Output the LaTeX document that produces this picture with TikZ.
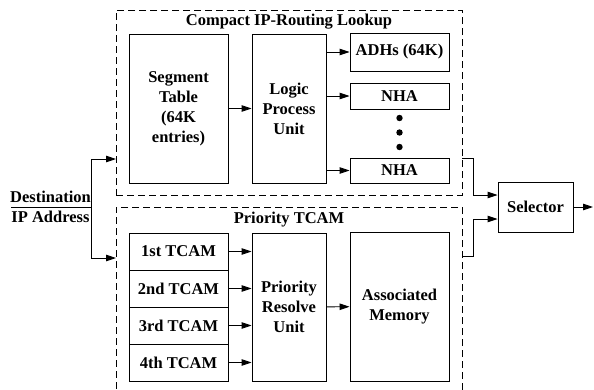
\documentclass[tikz,border=0pt]{standalone}
\usepackage{fontspec}
\setmainfont{Liberation Serif}
\usetikzlibrary{arrows.meta}

\begin{document}
\begin{tikzpicture}[x=1pt, y=-1pt,
    every node/.style={font=\fontsize{16.5}{20}\selectfont\bfseries},
    blk/.style={draw, line width=0.9pt, align=center, inner sep=0pt},
    group/.style={draw, line width=0.9pt, dash pattern=on 7pt off 4pt, inner sep=0pt},
    arr/.style={line width=0.9pt, -{Triangle[length=10pt,width=6.5pt]}},
    wire/.style={line width=0.9pt}]
        \useasboundingbox (0,0) rectangle (594,389);

        % Draw dashed groups
        \node[group, minimum width=346, minimum height=185] (cipr) at (289, 102.5) {};
        \node (ciprtitle) at (289, 22) {Compact IP-Routing Lookup};
        \node[group, minimum width=346, minimum height=200] (ptcam) at (289, 307) {};
        \node (ptcamtitle) at (289, 220) {Priority TCAM};

        % Draw blocks of the lookup
        \node[blk, minimum width=99, minimum height=149] (segtab) at (178.5, 108.5) {Segment\\Table\\(64K\\entries)};
        \node[blk, minimum width=74, minimum height=149] (lpu) at (289, 108.5) {Logic\\Process\\Unit};
        \node[blk, minimum width=99, minimum height=38] (adhs) at (399.5, 52) {ADHs (64K)};
        \node[blk, minimum width=99, minimum height=26] (nha1) at (399.5, 96) {NHA};
        \node[blk, minimum width=99, minimum height=25] (nha2) at (399.5, 170.5) {NHA};
        \foreach \y in {118, 132.5, 147}
            \fill (399.5, \y) circle (3.2pt);

        % Draw blocks of the TCAM part
        \node[blk, minimum width=99, minimum height=37] (tcam1) at (178.5, 251.5) {1st TCAM};
        \node[blk, minimum width=99, minimum height=37] (tcam2) at (178.5, 288.5) {2nd TCAM};
        \node[blk, minimum width=99, minimum height=37] (tcam3) at (178.5, 325.5) {3rd TCAM};
        \node[blk, minimum width=99, minimum height=37] (tcam4) at (178.5, 362.5) {4th TCAM};
        \node[blk, minimum width=74, minimum height=148] (pru) at (289, 307) {Priority\\Resolve\\Unit};
        \node[blk, minimum width=99, minimum height=149] (assoc) at (399.5, 306.5) {Associated\\Memory};

        % Draw selector and input label
        \node[blk, minimum width=75, minimum height=50] (sel) at (535.5, 207) {Selector};
        \node[anchor=south] (dest) at (50.5, 206) {Destination};
        \node[anchor=north] (ipaddr) at (50.5, 208) {IP Address};
        \coordinate (dleft) at (11, 207);
        \coordinate (dsplit) at (91, 207);
        \coordinate (cin) at (116, 159);
        \coordinate (pin) at (116, 258);
        \coordinate (cout) at (462, 158);
        \coordinate (pout) at (462, 256);
        \coordinate (out) at (593, 207);

        % Draw communication lines
        \draw[wire] (dleft) -- (dsplit);
        \draw[arr] (dsplit) |- (cin);
        \draw[arr] (dsplit) |- (pin);

        \draw[arr] (segtab) -- (lpu);
        \draw[arr] (lpu.east |- adhs) -- (adhs);
        \draw[arr] (lpu.east |- nha1) -- (nha1);
        \draw[arr] (lpu.east |- nha2) -- (nha2);

        \draw[arr] (tcam1) -- (tcam1 -| pru.west);
        \draw[arr] (tcam2) -- (tcam2 -| pru.west);
        \draw[arr] (tcam3) -- (tcam3 -| pru.west);
        \draw[arr] (tcam4) -- (tcam4 -| pru.west);
        \draw[arr] (pru) -- (assoc);

        \draw[arr] (cout) -- ++(11,0) |- ([yshift=12pt]sel.west);
        \draw[arr] (pout) -- ++(11,0) |- ([yshift=-12pt]sel.west);
        \draw[arr] (sel) -- (out);
    \end{tikzpicture}
\end{document}
